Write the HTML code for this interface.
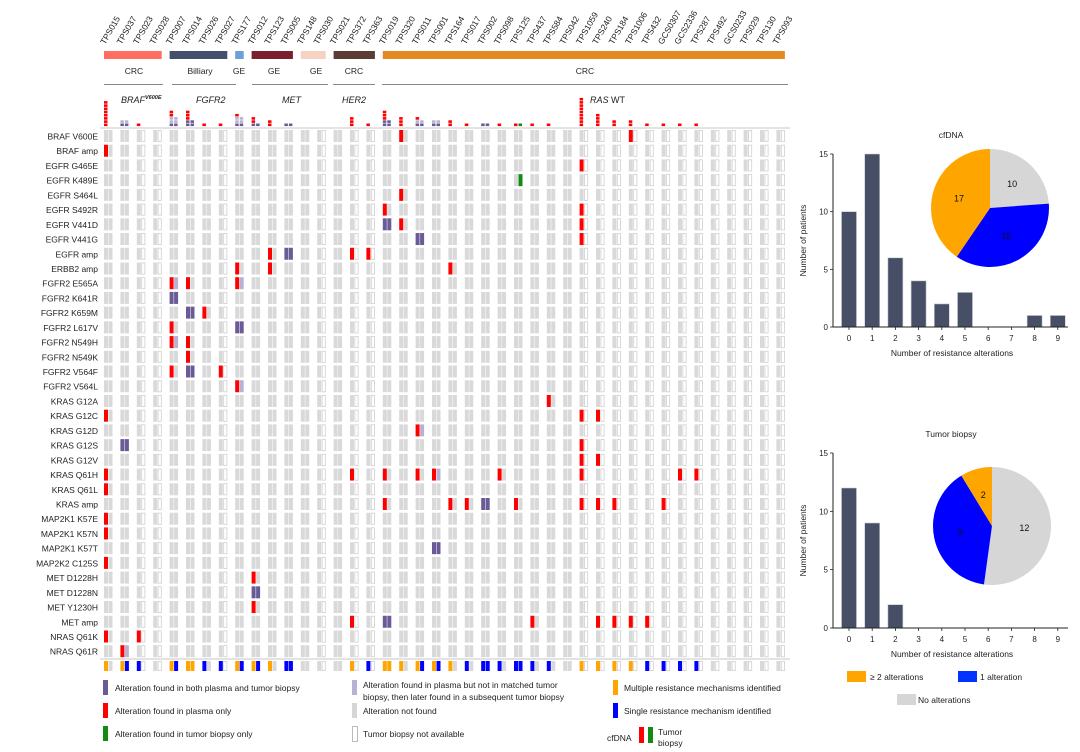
<!DOCTYPE html>
<html><head><meta charset="utf-8">
<style>
html,body{margin:0;padding:0;background:#fff;}
svg{display:block;font-family:"Liberation Sans",sans-serif;}
</style></head>
<body>
<svg id="root" width="1080" height="752" viewBox="0 0 1080 752" xmlns="http://www.w3.org/2000/svg">
<g id="onco"></g>
<g id="legend">
  <rect x="103" y="680" width="5" height="15" fill="#6a5a96"/>
  <text x="115" y="691" font-size="8.5" fill="#222">Alteration found in both plasma and tumor biopsy</text>
  <rect x="103" y="703" width="5" height="15" fill="#ff0000"/>
  <text x="115" y="714" font-size="8.5" fill="#222">Alteration found in plasma only</text>
  <rect x="103" y="726" width="5" height="15" fill="#138a13"/>
  <text x="115" y="737" font-size="8.5" fill="#222">Alteration found in tumor biopsy only</text>
  <rect x="352" y="680" width="5" height="15" fill="#b9b0d4"/>
  <text x="363" y="688" font-size="8.5" fill="#222">Alteration found in plasma but not in matched tumor</text>
  <text x="363" y="700" font-size="8.5" fill="#222">biopsy, then later found in a subsequent tumor biopsy</text>
  <rect x="352" y="703" width="5" height="15" fill="#d6d6d6"/>
  <text x="363" y="714" font-size="8.5" fill="#222">Alteration not found</text>
  <rect x="352.5" y="726.5" width="5" height="15" fill="#fff" stroke="#bbb"/>
  <text x="363" y="737" font-size="8.5" fill="#222">Tumor biopsy not available</text>
  <rect x="613" y="680" width="5" height="15" fill="#ffa500"/>
  <text x="624" y="691" font-size="8.5" fill="#222">Multiple resistance mechanisms identified</text>
  <rect x="613" y="703" width="5" height="15" fill="#0000ff"/>
  <text x="624" y="714" font-size="8.5" fill="#222">Single resistance mechanism identified</text>
  <text x="607" y="741" font-size="8.5" fill="#222">cfDNA</text>
  <rect x="639" y="727" width="5" height="16" fill="#ff0000"/>
  <rect x="648" y="727" width="5" height="16" fill="#138a13"/>
  <text x="658" y="735" font-size="8.5" fill="#222">Tumor</text>
  <text x="658" y="746" font-size="8.5" fill="#222">biopsy</text>
</g>
<g id="chart1"></g>
<g id="chart2"></g>
<g>
  <rect x="847" y="671" width="19" height="11" fill="#ffa500"/>
  <text x="870" y="680" font-size="8.5" fill="#222">≥ 2 alterations</text>
  <rect x="958" y="671" width="19" height="11" fill="#0033ff"/>
  <text x="980" y="680" font-size="8.5" fill="#222">1 alteration</text>
  <rect x="897" y="694" width="19" height="11" fill="#d6d6d6"/>
  <text x="918" y="703" font-size="8.5" fill="#222">No alterations</text>
</g>
</svg>
<script>
const patients = ["TPS015","TPS037","TPS023","TPS028","TPS007","TPS014","TPS026","TPS027","TPS177","TPS012","TPS123","TPS005","TPS148","TPS030","TPS021","TPS372","TPS363","TPS019","TPS320","TPS011","TPS001","TPS164","TPS017","TPS002","TPS098","TPS125","TPS437","TPS584","TPS042","TPS1059","TPS240","TPS184","TPS1006","TPS432","GCS0307","GCS2336","TPS287","TPS492","GCS0233","TPS029","TPS130","TPS093"];
const alterationNames = ["BRAF V600E","BRAF amp","EGFR G465E","EGFR K489E","EGFR S464L","EGFR S492R","EGFR V441D","EGFR V441G","EGFR amp","ERBB2 amp","FGFR2 E565A","FGFR2 K641R","FGFR2 K659M","FGFR2 L617V","FGFR2 N549H","FGFR2 N549K","FGFR2 V564F","FGFR2 V564L","KRAS G12A","KRAS G12C","KRAS G12D","KRAS G12S","KRAS G12V","KRAS Q61H","KRAS Q61L","KRAS amp","MAP2K1 K57E","MAP2K1 K57N","MAP2K1 K57T","MAP2K2 C125S","MET D1228H","MET D1228N","MET Y1230H","MET amp","NRAS Q61K","NRAS Q61R"];
// [row, patient, type] r=plasma only, b=both, l=plasma then later tumor, g=tumor only
const alterations = [[0,18,"r"],[0,32,"r"],[1,0,"r"],[2,29,"r"],[3,25,"g"],[4,18,"r"],[5,17,"r"],[5,29,"r"],[6,17,"b"],[6,18,"r"],[6,29,"r"],[7,19,"b"],[7,29,"r"],[8,10,"r"],[8,11,"b"],[8,15,"r"],[8,16,"r"],[9,8,"r"],[9,10,"r"],[9,21,"r"],[10,4,"l"],[10,5,"r"],[10,8,"l"],[11,4,"b"],[12,5,"b"],[12,6,"r"],[13,4,"r"],[13,8,"b"],[14,4,"l"],[14,5,"r"],[15,5,"r"],[16,4,"r"],[16,5,"b"],[16,7,"r"],[17,8,"l"],[18,27,"r"],[19,0,"r"],[19,29,"r"],[19,30,"r"],[20,19,"l"],[21,1,"b"],[21,29,"r"],[22,29,"r"],[22,30,"r"],[23,0,"r"],[23,15,"r"],[23,17,"r"],[23,19,"r"],[23,20,"l"],[23,24,"r"],[23,29,"r"],[23,35,"r"],[23,36,"r"],[24,0,"r"],[25,17,"r"],[25,21,"r"],[25,22,"r"],[25,23,"b"],[25,25,"r"],[25,29,"r"],[25,30,"r"],[25,31,"r"],[25,34,"r"],[26,0,"r"],[27,0,"r"],[28,20,"b"],[29,0,"r"],[30,9,"r"],[31,9,"b"],[32,9,"r"],[33,15,"r"],[33,17,"b"],[33,26,"r"],[33,30,"r"],[33,31,"r"],[33,32,"r"],[33,33,"r"],[34,0,"r"],[34,2,"r"],[35,1,"l"]];
const biopsyUnavailable = [2,3,7,13,15,16,29,30,31,32,33,34,35,36,37,38,39,40,41];
const summaryPlasma = ["m","m","s","n","m","m","s","s","m","m","m","s","n","n","n","m","s","m","m","m","m","m","s","s","s","s","s","s","n","m","m","m","m","s","s","s","s","n","n","n","n","n"];
const summaryTumor  = ["n","s","n","n","s","m","n","n","s","s","n","s","n","n","n","n","n","m","n","s","s","n","n","s","n","s","n","n","n","n","n","n","n","n","n","n","n","n","n","n","n","n"];
const groupNames = ["CRC","Billiary","GE","GE","GE","CRC","CRC"];
const groupStart = [0,4,8,9,12,14,17];
const groupEnd = [3,7,8,11,13,16,41];
const groupColors = ["#ff6e5e","#454f6c","#6d9fd8","#7a1f2e","#f6d2c3","#5a3d35","#e38a22"];

const cfCategories = [0,1,2,3,4,5,6,7,8,9];
const cfValues = [10,15,6,4,2,3,0,0,1,1];
const cfPieLabels = ["10","15","17"];
const cfPieValues = [10,15,17];
const tbValues = [12,9,2,0,0,0,0,0,0,0];
const tbPieLabels = ["12","9","2"];
const tbPieValues = [12,9,2];
const yTicks = [0,5,10,15];

const NS="http://www.w3.org/2000/svg";
function mk(parent,tag,attrs,text){const e=document.createElementNS(NS,tag);for(const k in attrs)e.setAttribute(k,attrs[k]);if(text!==undefined)e.textContent=text;parent.appendChild(e);return e;}
const onco=document.getElementById("onco");
const colX=i=>104+i*16.4;
const rowY=r=>130+r*14.72;
const COL={r:"#ff0000",b:"#6a5a96",l:"#b9b0d4",g:"#138a13",grey:"#d9d9d9"};

// header names
patients.forEach((p,i)=>{
  const t=mk(onco,"text",{x:colX(i)+1,y:45,"font-size":8.5,fill:"#222",transform:`rotate(-60 ${colX(i)+1} 45)`},p);
  
  
});
// groups
groupNames.forEach((g,k)=>{
  const x0=colX(groupStart[k]), x1=colX(groupEnd[k])+8.5;
  const r=mk(onco,"rect",{x:x0,y:51,width:x1-x0,height:8,fill:groupColors[k]});
  
  
});
const labelPos=[[134,"CRC"],[200,"Billiary"],[239,"GE"],[274,"GE"],[316,"GE"],[354,"CRC"],[585,"CRC"]];
labelPos.forEach(([x,s])=>{
  const t=mk(onco,"text",{x:x,y:74,"font-size":8.5,"text-anchor":"middle",fill:"#222"},s);
  
  
});
[[104,163],[172,236],[252,328],[333,375],[382,788]].forEach(([a,b])=>{
  const l=mk(onco,"line",{x1:a,x2:b,y1:84.5,y2:84.5,stroke:"#888","stroke-width":1});
  
  
});
const genes=[[121,"BRAF","V600E"],[196,"FGFR2",""],[282,"MET",""],[342,"HER2",""]];
genes.forEach(([x,g,s])=>{
  const t=mk(onco,"text",{x:x,y:103,"font-size":9,"font-style":"italic",fill:"#222"},g);
  
  
  if(s){const ts=mk(t,"tspan",{dy:-4,"font-size":5.5,"font-weight":"bold"},s);}
});
const ras=mk(onco,"text",{x:590,y:103,"font-size":9,fill:"#222"});


mk(ras,"tspan",{"font-style":"italic"},"RAS");mk(ras,"tspan",{},"\u00a0WT");

// separator lines
let s1=mk(onco,"line",{x1:100,x2:790,y1:128,y2:128,stroke:"#e3e3e3","stroke-width":2});

let s2=mk(onco,"line",{x1:100,x2:790,y1:659,y2:659,stroke:"#e3e3e3","stroke-width":2});


// row labels and grid
const altMap={};alterations.forEach(([r,c,t])=>altMap[r+"_"+c]=t);
alterationNames.forEach((n,r)=>{
  const t=mk(onco,"text",{x:98,y:rowY(r)+9.5,"font-size":8.5,"text-anchor":"end",fill:"#222"},n);
  
  
  patients.forEach((p,i)=>{
    const x=colX(i),y=rowY(r),typ=altMap[r+"_"+i];
    const na=biopsyUnavailable.includes(i);
    let lc=COL.grey, rc=na?"#fff":COL.grey;
    if(typ==="r")lc=COL.r;
    if(typ==="b"){lc=COL.b;rc=COL.b;}
    if(typ==="l"){lc=COL.r;rc=COL.l;}
    if(typ==="g"){rc=COL.g;}
    const a=mk(onco,"rect",{x:x,y:y,width:4,height:12,fill:lc});
    
    
    const bAttrs={x:x+4.5,y:y,width:4,height:12,fill:rc};
    if(na&&rc==="#fff"){bAttrs.stroke="#cfcfcf";bAttrs["stroke-width"]=0.8;bAttrs.x=x+4.9;bAttrs.y=y+0.4;bAttrs.width=3.2;bAttrs.height=11.2;}
    const b=mk(onco,"rect",bAttrs);
    
    
  });
});

// top stacked counts
patients.forEach((p,i)=>{
  const list=alterations.filter(a=>a[1]===i);
  const ord={b:0,l:1,r:2,g:3};
  list.sort((a,b)=>ord[a[2]]-ord[b[2]]);
  let nl=0,nr=0;
  list.forEach(a=>{
    const t=a[2];
    let lc=null,rc=null;
    if(t==="r")lc=COL.r;
    if(t==="b"){lc=COL.b;rc=COL.b;}
    if(t==="l"){lc=COL.l;rc=COL.l;}
    if(t==="g")rc=COL.g;
    if(lc){const q=mk(onco,"rect",{x:colX(i),y:123.5-nl*3.2,width:3.5,height:2.6,fill:lc});
      nl++;}
    if(rc){const q=mk(onco,"rect",{x:colX(i)+4.5,y:123.5-nr*3.2,width:3.5,height:2.6,fill:rc});
      nr++;}
  });
});

// summary row
const SC={m:"#ffa500",s:"#0000ff",n:"#d9d9d9"};
patients.forEach((p,i)=>{
  const x=colX(i);
  const a=mk(onco,"rect",{x:x,y:661,width:4,height:10,fill:SC[summaryPlasma[i]]});
  
  const na=biopsyUnavailable.includes(i);
  let attrs={x:x+4.5,y:661,width:4,height:10,fill:SC[summaryTumor[i]]};
  if(na&&summaryTumor[i]==="n"){attrs={x:x+4.9,y:661.4,width:3.2,height:9.2,fill:"#fff",stroke:"#cfcfcf","stroke-width":0.8};}
  const b=mk(onco,"rect",attrs);
  
});

// histograms
function hist(gid,title,values,y0,y15,pieVals,pieLabels,pc,labelPts){
  const g=document.getElementById(gid);
  const xS=c=>849+c*23.2;
  const yS=v=>y0-(y0-y15)*v/15;
  const tt=mk(g,"text",{x:951,y:y15-16,"font-size":8.5,"text-anchor":"middle",fill:"#222"},title);
  
  cfCategories.forEach((c,k)=>{
    const v=values[k];
    if(v>0){const r=mk(g,"rect",{x:xS(c)-7.5,y:yS(v),width:15,height:y0-yS(v),fill:"#474f66",stroke:"#c9ccd6","stroke-width":0.6});
      }
    const tl=mk(g,"text",{x:xS(c),y:y0+14,"font-size":8,"text-anchor":"middle",fill:"#222"},String(c));
    
    const tk=mk(g,"line",{x1:xS(c),x2:xS(c),y1:y0,y2:y0+3,stroke:"#222","stroke-width":0.8});
    
  });
  const ax=mk(g,"path",{d:`M833,${y15}V${y0}H1068`,fill:"none",stroke:"#222","stroke-width":1});
  
  yTicks.forEach(v=>{
    const l=mk(g,"line",{x1:830,x2:833,y1:yS(v),y2:yS(v),stroke:"#222","stroke-width":0.8});
    
    const t=mk(g,"text",{x:828,y:yS(v)+3,"font-size":8,"text-anchor":"end",fill:"#222"},String(v));
    
  });
  const xt=mk(g,"text",{x:952,y:y0+29,"font-size":8.5,"text-anchor":"middle",fill:"#222"},"Number of resistance alterations");
  
  const ym=(y0+y15)/2;
  const yt=mk(g,"text",{x:806,y:ym,"font-size":8.5,"text-anchor":"middle",fill:"#222",transform:`rotate(-90 806 ${ym})`},"Number of patients");
  
  // pie: grey, blue, orange clockwise from top
  const cols=["#d6d6d6","#0000ff","#ffa500"];
  const tot=pieVals.reduce((a,b)=>a+b,0);
  let ang=-Math.PI/2;const R=59;
  pieVals.forEach((v,k)=>{
    const a2=ang+2*Math.PI*v/tot;
    const x1=pc[0]+R*Math.cos(ang),y1=pc[1]+R*Math.sin(ang),x2=pc[0]+R*Math.cos(a2),y2=pc[1]+R*Math.sin(a2);
    const large=(a2-ang)>Math.PI?1:0;
    const p=mk(g,"path",{d:`M${pc[0]},${pc[1]}L${x1},${y1}A${R},${R} 0 ${large} 1 ${x2},${y2}Z`,fill:cols[k]});
    
    const mid=(ang+a2)/2;
    const t=mk(g,"text",{x:pc[0]+R*0.55*Math.cos(mid),y:pc[1]+R*0.55*Math.sin(mid)+3,"font-size":9,"text-anchor":"middle",fill:"#111"},pieLabels[k]);
    
    ang=a2;
  });
}
hist("chart1","cfDNA",cfValues,327,154,cfPieValues,cfPieLabels,[990,208]);
hist("chart2","Tumor biopsy",tbValues,628,453,tbPieValues,tbPieLabels,[992,526]);
</script>
</body></html>
